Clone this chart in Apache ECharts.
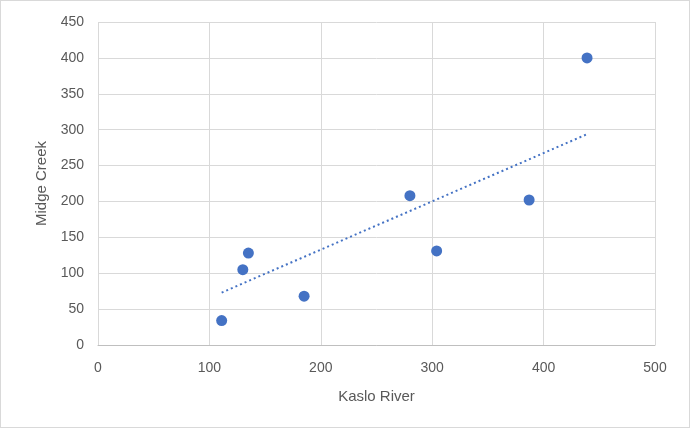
<!DOCTYPE html>
<html><head><meta charset="utf-8">
<script src="https://cdn.jsdelivr.net/npm/echarts@6/dist/echarts.min.js"></script>
<style>html,body{margin:0;padding:0;background:#fff}#c{width:690px;height:428px;box-sizing:border-box;border:1px solid #d9d9d9}</style>
</head><body><div id="c"></div>
<script>
const kasloRiver = [111, 130, 135, 185, 280, 304, 387, 439];
const midgeCreek = [34, 105, 128, 68, 208, 131, 202, 400];
const trendX = [111, 438];
const trendY = [73, 293];
const xTitle = 'Kaslo River';
const yTitle = 'Midge Creek';

const font='"Liberation Sans", Arial, sans-serif';
const chart=echarts.init(document.getElementById('c'));
chart.setOption({
  animation:false,
  grid:{left:97,right:34,top:21,bottom:82},
  xAxis:{type:'value',min:0,max:500,interval:100,
    name:xTitle,nameLocation:'middle',nameGap:44,
    nameTextStyle:{color:'#595959',fontSize:15,fontFamily:font},
    axisLine:{show:true,lineStyle:{color:'#bfbfbf'}},axisTick:{show:false},
    axisLabel:{color:'#595959',fontSize:14,fontFamily:font,margin:16},
    splitLine:{show:true,lineStyle:{color:'#d9d9d9'}}},
  yAxis:{type:'value',min:0,max:450,interval:50,
    name:yTitle,nameLocation:'middle',nameGap:49,
    nameTextStyle:{color:'#595959',fontSize:15,fontFamily:font},
    axisLine:{show:false},axisTick:{show:false},
    axisLabel:{color:'#595959',fontSize:14,fontFamily:font,margin:14},
    splitLine:{show:true,lineStyle:{color:'#d9d9d9'}}},
  series:[
    {type:'line',data:trendX.map((x,i)=>[x,trendY[i]]),symbol:'none',silent:true,
      lineStyle:{color:'#4472c4',width:2,type:[2,3]},z:1},
    {type:'scatter',data:kasloRiver.map((x,i)=>[x,midgeCreek[i]]),
      symbolSize:11,itemStyle:{color:'#4472c4',opacity:1},z:2}
  ]
});
</script></body></html>
